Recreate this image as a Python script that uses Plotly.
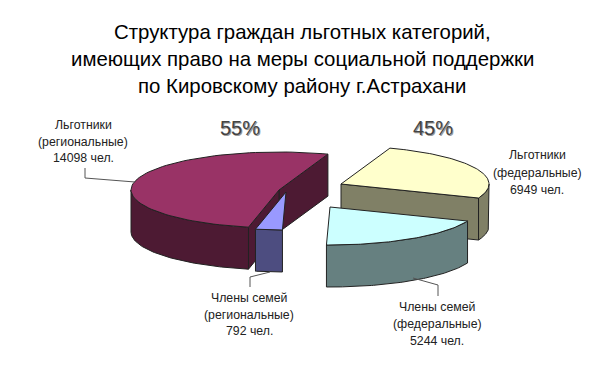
import numpy as np
import plotly.graph_objects as go

# ---- data ----
categories = ["Льготники (региональные)", "Члены семей (региональные)",
              "Члены семей (федеральные)", "Льготники (федеральные)"]
values = [14098, 792, 5244, 6949]
percent_labels = ["55%", "45%"]
title_lines = ["Структура граждан льготных категорий,",
               "имеющих право на меры социальной поддержки",
               "по Кировскому району г.Астрахани"]
label_lines = [["Льготники", "(региональные)", "14098 чел."],
               ["Члены семей", "(региональные)", "792 чел."],
               ["Члены семей", "(федеральные)", "5244 чел."],
               ["Льготники", "(федеральные)", "6949 чел."]]

# ---- styling / projection ----
top_colors = ["#993366", "#9999FF", "#CCFFFF", "#FFFFCC"]
side_colors = ["#4D1A33", "#4D4D80", "#668080", "#808066"]
centers = [(279, 190), (286, 192), (330, 207), (341, 184)]   # exploded slice centres
RX, RY, DEPTH = 148, 38, 42
START_DEG = 70.7
EDGE = "#222222"
PAGE_MARGIN = 8  # default body margin of the page

label_pos = [(83, [125, 142, 158]), (249, [298, 315, 331]),
             (437, [307, 324, 341]), (537, [155, 173, 190])]
leaders = [([135, 85, 85], [182, 178, 168]),
           ([270, 250, 250], [272, 277, 287]),
           ([413, 438, 438], [278, 285, 296])]

fractions = np.array(values) / sum(values)
edges = START_DEG + np.concatenate([[0], np.cumsum(fractions) * 360])


def ell(c, deg):
    t = np.radians(deg)
    return c[0] + RX * np.cos(t), c[1] - RY * np.sin(t)


def poly(fig, xs, ys, color):
    fig.add_trace(go.Scatter(x=list(xs), y=list(ys), mode="lines", fill="toself",
                             fillcolor=color, line=dict(color=EDGE, width=1),
                             hoverinfo="skip", showlegend=False))


def arc(c, a, b, n=80):
    ts = np.linspace(a, b, n)
    return ell(c, ts)


def outer_wall(fig, c, a, b, color):
    # visible part of the rim: lower half of the ellipse only
    lo, hi = max(a, 180), min(b, 360)
    if lo >= hi:
        return
    x, y = arc(c, lo, hi)
    poly(fig, np.r_[x, x[::-1], x[0]], np.r_[y, y[::-1] + DEPTH, y[0]], color)


def cut_wall(fig, c, deg, color):
    x, y = ell(c, deg)
    poly(fig, [c[0], x, x, c[0], c[0]],
         [c[1], y, y + DEPTH, c[1] + DEPTH, c[1]], color)


def top(fig, c, a, b, color):
    x, y = arc(c, a, b)
    poly(fig, np.r_[c[0], x, c[0]], np.r_[c[1], y, c[1]], color)


fig = go.Figure()

# federal beneficiaries (back right)
i = 3
a, b = edges[i], edges[i + 1]
cut_wall(fig, centers[i], a, side_colors[i])
outer_wall(fig, centers[i], a, b, side_colors[i])
top(fig, centers[i], a, b, top_colors[i])

# federal family members (front right)
i = 2
a, b = edges[i], edges[i + 1]
outer_wall(fig, centers[i], a, b, side_colors[i])
top(fig, centers[i], a, b, top_colors[i])

# regional beneficiaries (large left)
i = 0
a, b = edges[i], edges[i + 1]
cut_wall(fig, centers[i], a, side_colors[i])
cut_wall(fig, centers[i], b, side_colors[i])
outer_wall(fig, centers[i], a, b, side_colors[i])
top(fig, centers[i], a, b, top_colors[i])

# regional family members (thin front)
i = 1
a, b = edges[i], edges[i + 1]
outer_wall(fig, centers[i], a, b, side_colors[i])
top(fig, centers[i], a, b, top_colors[i])

# leader lines
for lx, ly in leaders:
    fig.add_trace(go.Scatter(x=lx, y=ly, mode="lines",
                             line=dict(color="#555555", width=1),
                             hoverinfo="skip", showlegend=False))

ann = []


def text(x, y, s, size, color="#111111", font="Liberation Sans"):
    ann.append(dict(x=x, y=y, text=s, showarrow=False, xref="x", yref="y",
                    xanchor="center", yanchor="middle",
                    font=dict(family=font, size=size, color=color)))


for s, y in zip(title_lines, [32, 59, 86]):
    text(302, y, s, 20.4, "#000000")
for (lx, ys), lines in zip(label_pos, label_lines):
    for y, s in zip(ys, lines):
        text(lx, y, s, 12.3, "#222222")
for (px, py), s in zip([(240, 128), (433, 128)], percent_labels):
    text(px + 1, py + 1, s, 20, "#9a9a9a")
    text(px, py, s, 20, "#444444")

fig.update_layout(
    width=608 - PAGE_MARGIN, height=383 - PAGE_MARGIN, autosize=False,
    margin=dict(l=0, r=0, t=0, b=0),
    paper_bgcolor="white", plot_bgcolor="white",
    xaxis=dict(range=[PAGE_MARGIN, 608], visible=False, fixedrange=True),
    yaxis=dict(range=[383, PAGE_MARGIN], visible=False, fixedrange=True),
    annotations=ann, showlegend=False,
)
fig.write_html("out.html", config={"displayModeBar": False})
